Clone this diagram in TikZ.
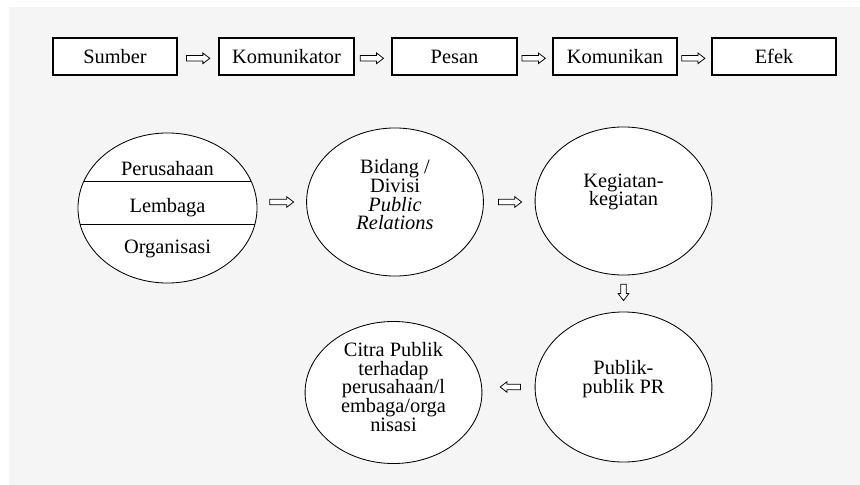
\documentclass[tikz,border=0pt]{standalone}
\usepackage{fontspec}
\setmainfont{Liberation Serif}
\usepackage{tikz}
\usetikzlibrary{shapes,arrows.meta}
\usetikzlibrary{calc}
\definecolor{bgcol}{RGB}{245,245,245}

\tikzset{
	box/.style={draw, line width=1pt, fill=white, minimum height=0.925cm, inner sep=0pt},
	bubble/.style={draw, ellipse, line width=0.6pt, fill=white, inner sep=0pt, minimum width=4.42cm, minimum height=3.7cm},
	txt/.style={align=center, font=\fontsize{14.5}{13.3}\selectfont, inner sep=0pt},
	hollow/.style={single arrow, draw, fill=white, line width=0.55pt, inner xsep=0pt, inner ysep=1.7pt, minimum width=0pt, minimum height=16.5pt, single arrow head extend=1.8pt, single arrow tip angle=75, sloped, allow upside down}
}

\begin{document}
\begin{tikzpicture}[x=0.025cm, y=-0.025cm]
	\useasboundingbox (0,0) rectangle (860,485);
	\fill[bgcol] (9,7) rectangle (860,485);
	
	\node[box, txt, minimum width=3.1cm] (sumber) at (115,56.5) {Sumber};
	\node[box, txt, minimum width=3.375cm] (komunikator) at (286.5,56.5) {Komunikator};
	\node[box, txt, minimum width=3.125cm] (pesan) at (454.5,56.5) {Pesan};
	\node[box, txt, minimum width=3.1cm] (komunikan) at (615,56.5) {Komunikan};
	\node[box, txt, minimum width=3.1cm] (efek) at (774,56.5) {Efek};
	
	\path (sumber.east) -- node[hollow, pos=.46, yshift=-1.3pt] {} (komunikator.west);
	\path (komunikator.east) -- node[hollow, pos=.42, yshift=-1.3pt] {} (pesan.west);
	\path (pesan.east) -- node[hollow, pos=.41, yshift=-1.3pt] {} (komunikan.west);
	\path (komunikan.east) -- node[hollow, pos=.41, yshift=-1.3pt] {} (efek.west);
	
	\node[bubble, minimum width=4.475cm, minimum height=3.75cm] (org) at (167.5,208) {};
	\draw[line width=0.6pt] ($(org.center)+(-83.5,-27)$) -- ($(org.center)+(83.5,-27)$);
	\draw[line width=0.6pt] ($(org.center)+(-87.4,16)$) -- ($(org.center)+(87.4,16)$);
	\node[txt] (perusahaan) at (167.5,168.5) {Perusahaan};
	\node[txt] (lembaga) at (167.5,207.5) {Lembaga};
	\node[txt] (organisasi) at (167.5,249) {Organisasi};
	
	\node[bubble, label={[txt, yshift=5pt]center:Bidang /\\Divisi\\\textit{Public}\\\textit{Relations}}] (bidang) at (395,202) {};
	\node[bubble, label={[txt, yshift=6.5pt]center:Kegiatan-\\kegiatan}] (kegiatan) at (623.5,201) {};
	\node[bubble, minimum height=3.75cm, label={[txt, yshift=5.5pt]center:Publik-\\publik PR}] (publik) at (623.5,387) {};
	\node[bubble, minimum height=3.55cm, label={[txt, yshift=4pt]center:Citra Publik\\terhadap\\perusahaan/l\\embaga/orga\\nisasi}] (citra) at (393.5,392.5) {};
	
	\path (bidang.west -| org.east) -- node[hollow, pos=.46, minimum height=17pt] {} (bidang.west);
	\path (bidang.east) -- node[hollow, pos=.48] {} (bidang.east -| kegiatan.west);
	\path (kegiatan.south) -- node[hollow, pos=.42, minimum height=11.5pt] {} (publik.north);
	\path (publik.west) -- node[hollow, pos=.43, minimum height=14.5pt] {} (publik.west -| citra.east);
\end{tikzpicture}
\end{document}
